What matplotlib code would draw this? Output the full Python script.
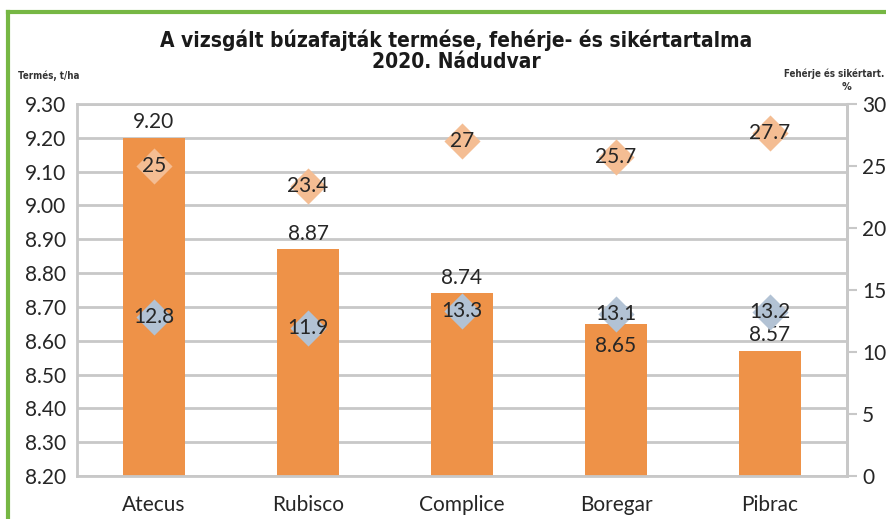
import matplotlib.pyplot as plt
import numpy as np
from matplotlib.lines import Line2D
from matplotlib.path import Path

plt.rcParams['font.family'] = ['Lato', 'DejaVu Sans']

# adatok
fajtak = ["Atecus", "Rubisco", "Complice", "Boregar", "Pibrac"]
termes = [9.20, 8.87, 8.74, 8.65, 8.57]
sikert = [25, 23.4, 27, 25.7, 27.7]
feherje = [12.8, 11.9, 13.3, 13.1, 13.2]

bar_color = "#EE9248"
sikert_color = "#F4BD93"
feherje_color = "#B2C2D4"
grid_color = "#C8C8C8"
text_color = "#262626"
title_font = ["DejaVu Sans", "Roboto"]

fig = plt.figure(figsize=(8.86, 5.19), dpi=100)
ax = fig.add_axes([0.0869, 0.0829, 0.8691, 0.7167])

x = np.arange(len(fajtak))
ax.bar(x, termes, width=0.4, color=bar_color, zorder=2, bottom=0)
ax.set_ylim(8.20, 9.30)
ax.set_xlim(-0.5, len(fajtak) - 0.5)
ax.set_yticks(np.round(np.arange(8.20, 9.301, 0.10), 2))
ax.yaxis.set_major_formatter(plt.FormatStrFormatter("%.2f"))
ax.grid(axis="y", color=grid_color, linewidth=2, zorder=0)
ax.set_axisbelow(True)
ax.set_xticks(x)
ax.set_xticklabels(fajtak)
ax.tick_params(axis="both", length=0, labelsize=15, labelcolor=text_color)
ax.tick_params(axis="x", pad=14)
ax.tick_params(axis="y", pad=8)
for s in ax.spines.values():
    s.set_color(grid_color)
    s.set_linewidth(2)

# oszlopfeliratok (Boregar a diagramon belul)
bar_offsets = [4, 4, 4, -23, 4]
for xi, v, off in zip(x, termes, bar_offsets):
    ax.annotate(f"{v:.2f}", (xi, v), xytext=(0, off), textcoords="offset points",
                ha="center", va="bottom", fontsize=15, color=text_color, zorder=6)

# masodik tengely: feherje es sikert
ax2 = ax.twinx()
ax2.set_ylim(0, 30)
ax2.set_yticks(np.arange(0, 31, 5))
ax2.tick_params(axis="y", length=7, width=1.5, color=grid_color, labelsize=15,
                labelcolor=text_color, pad=4)
for s in ax2.spines.values():
    s.set_visible(False)
ax2.spines["right"].set_visible(True)
ax2.spines["right"].set_color(grid_color)
ax2.spines["right"].set_linewidth(2)

diamond = Path([(-1, 0), (0, 1), (1, 0), (0, -1), (-1, 0)],
               [Path.MOVETO, Path.LINETO, Path.LINETO, Path.LINETO, Path.CLOSEPOLY])
ax2.plot(x, sikert, linestyle="none", marker=diamond, markersize=26,
         color=sikert_color, markeredgewidth=0, zorder=3)
ax2.plot(x, feherje, linestyle="none", marker=diamond, markersize=26,
         color=feherje_color, markeredgewidth=0, zorder=3)
for xi, v in zip(x, sikert):
    ax2.text(xi, v, f"{v:g}", ha="center", va="center", fontsize=15, color=text_color, zorder=5)
for xi, v in zip(x, feherje):
    ax2.text(xi, v, f"{v:g}", ha="center", va="center", fontsize=15, color=text_color, zorder=5)

# cimek
fig.text(0.515, 0.923, "A vizsgált búzafajták termése, fehérje- és sikértartalma",
         ha="center", va="center", fontsize=15, fontweight="bold",
         fontstretch="condensed", family=title_font, color="#1a1a1a")
fig.text(0.515, 0.880, "2020. Nádudvar", ha="center", va="center", fontsize=15,
         fontweight="bold", fontstretch="condensed", family=title_font, color="#1a1a1a")
fig.text(0.020, 0.855, "Termés, t/ha", ha="left", va="center", fontsize=7,
         fontweight="bold", fontstretch="condensed", family=title_font, color="#333333")
fig.text(0.998, 0.857, "Fehérje és sikértart.", ha="right", va="center", fontsize=7,
         fontweight="bold", fontstretch="condensed", family=title_font, color="#333333")
fig.text(0.955, 0.832, "%", ha="center", va="center", fontsize=7,
         fontweight="bold", family=title_font, color="#333333")

# zold keret
fig.add_artist(Line2D([0.0095, 0.0095], [0, 0.977], color="#76B744", linewidth=3,
                      transform=fig.transFigure))
fig.add_artist(Line2D([0.0095, 1.0], [0.977, 0.977], color="#76B744", linewidth=3,
                      transform=fig.transFigure))

plt.savefig("out.png", dpi=100)
plt.close()
